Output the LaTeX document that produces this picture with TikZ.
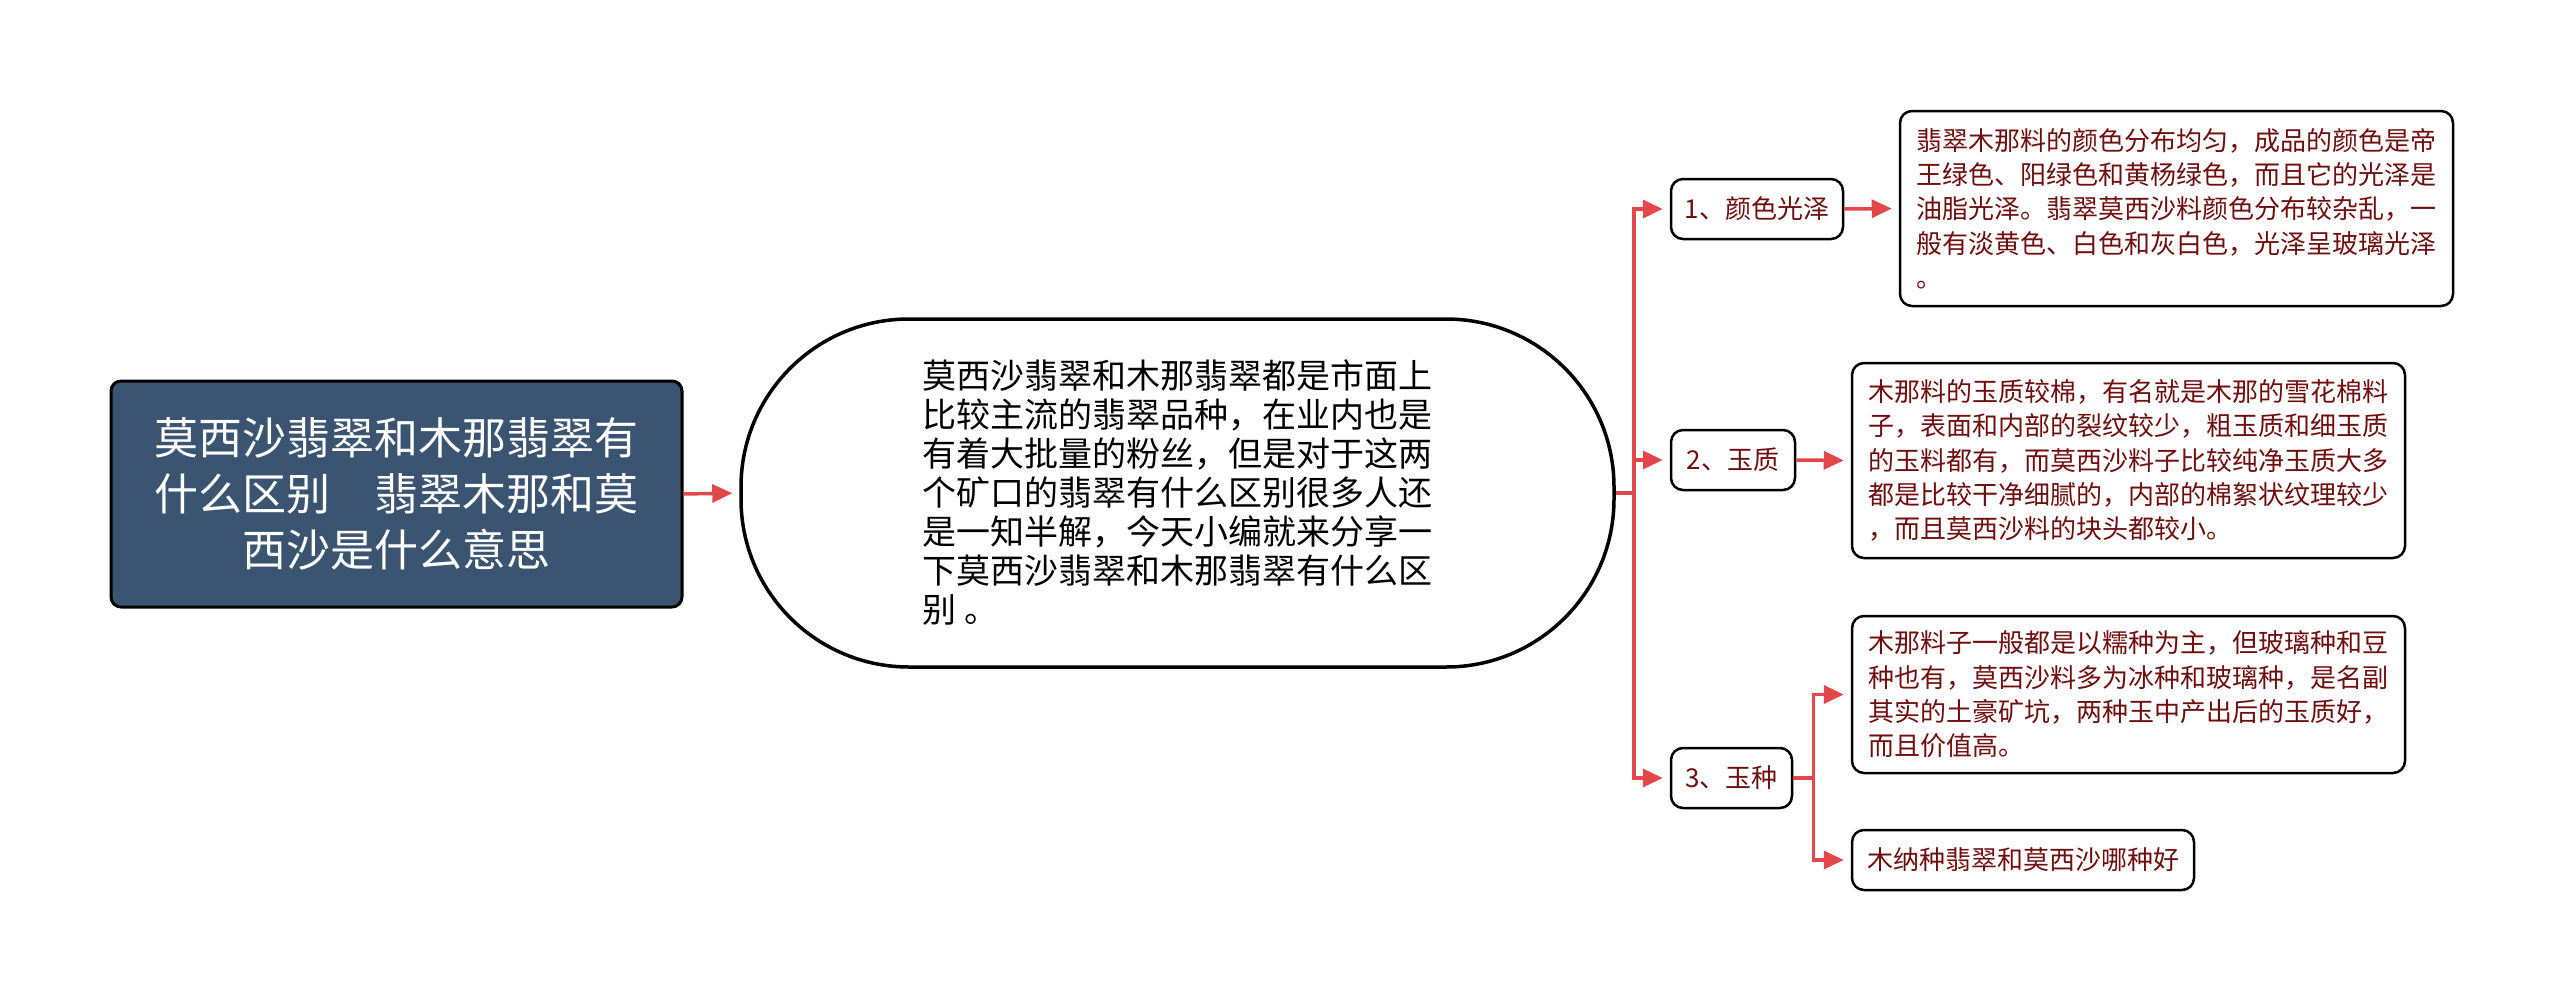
\documentclass[tikz,border=0pt]{standalone}
\usepackage{fontspec}
\newfontfamily\cjk{Noto Sans CJK SC}
\usetikzlibrary{arrows.meta}
\definecolor{rootblue}{HTML}{3A5471}
\definecolor{linkred}{HTML}{E2474B}
\definecolor{leafred}{HTML}{6E0E0E}
\tikzset{
  rootbox/.style={draw=black, line width=3pt, fill=rootblue, rounded corners=10pt,
    text=white, align=center, inner sep=0pt,
    font=\cjk\fontsize{44}{56}\selectfont},
  centralbox/.style={draw=black, line width=3.5pt, fill=white, rounded corners=168pt,
    text=black, align=left, inner sep=0pt,
    font=\cjk\fontsize{34}{39}\selectfont},
  childbox/.style={draw=black, line width=2.5pt, fill=white, rounded corners=12pt,
    text=leafred, align=center, inner sep=0pt, minimum height=60pt,
    font=\cjk\fontsize{26}{34.3}\selectfont},
  leafbox/.style={draw=black, line width=2.5pt, fill=white, rounded corners=12pt,
    text=leafred, align=left, inner sep=0pt,
    font=\cjk\fontsize{26}{34.3}\selectfont},
  link/.style={draw=linkred, line width=3.5pt,
    -{Triangle[length=20pt,width=18pt]}, shorten >=7pt},
}
\begin{document}
\begin{tikzpicture}[x=1pt,y=-1pt]
\useasboundingbox (0,0) rectangle (2560,1002);

\node[rootbox, minimum width=571pt, minimum height=226pt] (root) at (396.5,494)
  {莫西沙翡翠和木那翡翠有\\什么区别\hspace{1em}翡翠木那和莫\\西沙是什么意思};

\node[centralbox, minimum width=873pt, minimum height=348pt] (central) at (1177.5,493)
  {莫西沙翡翠和木那翡翠都是市面上\\比较主流的翡翠品种，在业内也是\\有着大批量的粉丝，但是对于这两\\个矿口的翡翠有什么区别很多人还\\是一知半解，今天小编就来分享一\\下莫西沙翡翠和木那翡翠有什么区\\别 。};

\node[childbox, minimum width=172pt] (c1) at (1757,209) {1、颜色光泽};
\node[childbox, minimum width=124pt] (c2) at (1733,460) {2、玉质};
\node[childbox, minimum width=121pt] (c3) at (1731.5,778) {3、玉种};

\node[leafbox, minimum width=553pt, minimum height=195pt] (l1) at (2176.5,208.5)
  {翡翠木那料的颜色分布均匀，成品的颜色是帝\\王绿色、阳绿色和黄杨绿色，而且它的光泽是\\油脂光泽。翡翠莫西沙料颜色分布较杂乱，一\\般有淡黄色、白色和灰白色，光泽呈玻璃光泽\\。};
\node[leafbox, minimum width=553pt, minimum height=195pt] (l2) at (2128.5,460.5)
  {木那料的玉质较棉，有名就是木那的雪花棉料\\子，表面和内部的裂纹较少，粗玉质和细玉质\\的玉料都有，而莫西沙料子比较纯净玉质大多\\都是比较干净细腻的，内部的棉絮状纹理较少\\，而且莫西沙料的块头都较小。};
\node[leafbox, minimum width=553pt, minimum height=157pt] (l3a) at (2128.5,694.5)
  {木那料子一般都是以糯种为主，但玻璃种和豆\\种也有，莫西沙料多为冰种和玻璃种，是名副\\其实的土豪矿坑，两种玉中产出后的玉质好，\\而且价值高。};
\node[leafbox, minimum width=342pt, minimum height=60pt] (l3b) at (2023,860)
  {木纳种翡翠和莫西沙哪种好};

\draw[link] (root.east) -- (central.west);
\draw[link] (central.east) -- ++(18,0) |- (c1.west);
\draw[link] (central.east) -- ++(18,0) |- (c2.west);
\draw[link] (central.east) -- ++(18,0) |- (c3.west);
\draw[link] (c1.east) -- (l1.west);
\draw[link] (c2.east) -- (l2.west);
\draw[link] (c3.east) -- ++(20,0) |- (l3a.west);
\draw[link] (c3.east) -- ++(20,0) |- (l3b.west);
\end{tikzpicture}
\end{document}
